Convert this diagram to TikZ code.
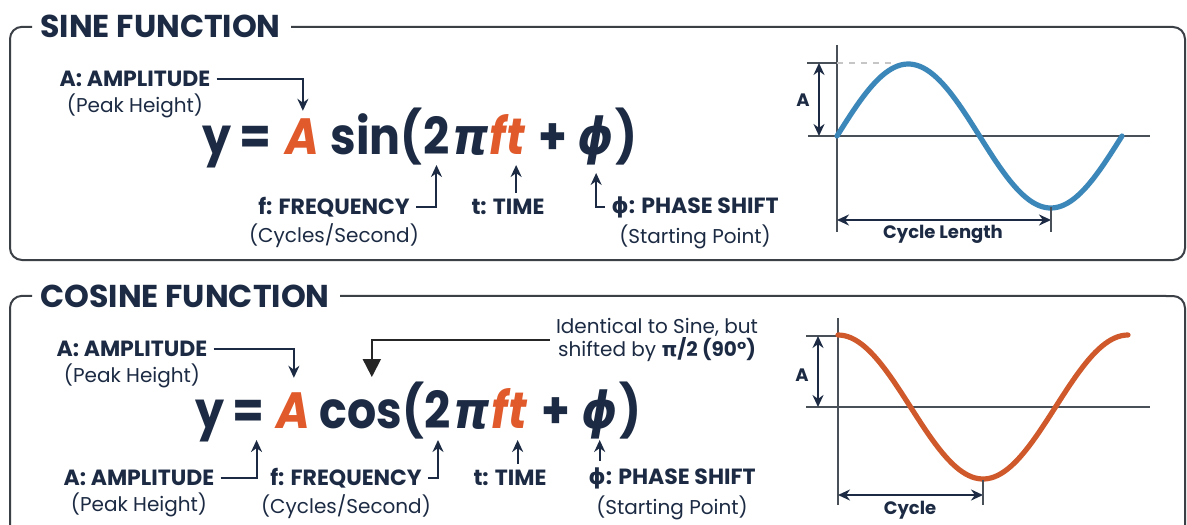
\documentclass[tikz,border=0pt]{standalone}
\usepackage{fontspec}
\setmainfont{Poppins}
\newfontfamily\grk{DejaVu Sans}
\newfontfamily\eqf{Poppins}[FakeStretch=0.9]
\newfontfamily\eqgrk{DejaVu Sans}[FakeStretch=0.9]
\usetikzlibrary{positioning,arrows.meta,calc}

\definecolor{navy}{HTML}{1C2B43}
\definecolor{accent}{HTML}{E05A2B}
\definecolor{wave}{HTML}{3B87B9}
\definecolor{cwave}{HTML}{D0592C}
\definecolor{frame}{HTML}{3B3F46}
\definecolor{axisc}{HTML}{4A5058}

\begin{document}
\begin{tikzpicture}[x=0.5pt, y=-0.5pt,
    panel/.style={draw=frame, line width=1pt, rounded corners=6pt},
    ttl/.style={font=\bfseries\fontsize{15.8}{18}\selectfont, text=navy, inner sep=0pt, anchor=base west},
    lbl/.style={font=\bfseries\fontsize{11}{13}\selectfont, text=navy, inner sep=0pt},
    sub/.style={font=\fontsize{10}{12}\selectfont, text=navy, inner sep=0pt},
    eq/.style={font=\eqf\bfseries\fontsize{25.5}{30}\selectfont, text=navy, inner sep=0pt},
    hot/.style={eq, text=accent},
    ptr/.style={draw=navy, line width=1pt, -{Stealth[length=6pt, width=5.5pt]}},
    axis/.style={draw=axisc, line width=1pt},
    dim/.style={draw=navy, line width=1pt, {Stealth[length=6pt, width=5.5pt]}-{Stealth[length=6pt, width=5.5pt]}},
    glbl/.style={font=\bfseries\fontsize{9}{11}\selectfont, text=navy, inner sep=0pt}]

\fill[white] (0,0) rectangle (1187,524);
\useasboundingbox (0,0) rectangle (1187,524);

% sine panel
\node[ttl] (stitle) at (40,38) {SINE FUNCTION};
\draw[panel] ([xshift=-4pt]stitle.west) -| (10,260) -| (1185,27) -- ([xshift=5pt]stitle.east);

\node[eq, anchor=base west] (sy) at (202,155) {y};
\node[eq, base right=3.5pt of sy] (seq) {=};
\node[hot, base right=7pt of seq] (sA) {\itshape A};
\node[eq, base right=5pt of sA] (ssin) {sin(};
\node[eq, base right=0pt of ssin] (stwo) {2};
\node[eq, base right=1pt of stwo] (spi) {\eqgrk\itshape π};
\node[hot, base right=0pt of spi] (sf) {\itshape f};
\node[hot, base right=0pt of sf] (st) {\itshape t};
\node[eq, base right=6pt of st] (splus) {+};
\node[eq, base right=5pt of splus] (sphi) {\eqgrk\itshape ϕ};
\node[eq, base right=0pt of sphi] (srp) {)};

\node[lbl] (samp) at (135,79) {A: AMPLITUDE};
\node[sub, below=3pt of samp] (sampsub) {(Peak Height)};
\node[lbl] (sfreq) at (334,207) {f: FREQUENCY};
\node[sub, below=3pt of sfreq] (sfreqsub) {(Cycles/Second)};
\node[lbl] (stime) at (508,207) {t: TIME};
\node[lbl] (sphase) at (695,207) {{\grk ϕ}: PHASE SHIFT};
\node[sub, below=3pt of sphase] (sphasesub) {(Starting Point)};

\draw[ptr, shorten >=4pt] ([xshift=3pt]samp.east) -| (sA.north);
\draw[ptr, shorten >=5pt] ([xshift=3pt]sfreq.east) -| (stwo.base);
\draw[ptr, shorten <=3pt, shorten >=5pt] (st.base |- stime.north) -- (st.base);
\draw[ptr, shorten >=9pt] ([xshift=-3pt]sphase.west) -| (sphi.base);

% sine graph
\coordinate (so) at (837,136);
\coordinate (speak) at (837,63);
\draw[axis] (837,45) -- (837,232);
\draw[axis] (808,136) -- (1150,136);
\draw[axis] (807,63) -- (speak);
\draw[axis, draw=gray!45, dashed] (speak) -- (893,63);
\draw[wave, line width=2.6pt, line cap=round] plot[domain=0:285, samples=90] ({837+\x}, {136-72*sin(\x/285*360)});
\draw[dim] (819,63) -- (819,136);
\node[glbl] (salbl) at (803,100) {A};
\draw[dim] (837,220) -- (1051,220);
\draw[axis, line width=0.8pt] (1051,207) -- (1051,232);
\node[glbl] (scyc) at (943,234) {Cycle Length};

% cosine panel
\node[ttl] (ctitle) at (40,307) {COSINE FUNCTION};
\draw[panel] ([xshift=-4pt]ctitle.west) -| (10,580) -| (1185,296) -- ([xshift=5pt]ctitle.east);

\node[eq, anchor=base west] (cy) at (195,428) {y};
\node[eq, base right=3.5pt of cy] (ceq) {=};
\node[hot, base right=6pt of ceq] (cA) {\itshape A};
\node[eq, base right=4pt of cA] (ccos) {cos(};
\node[eq, base right=0pt of ccos] (ctwo) {2};
\node[eq, base right=1pt of ctwo] (cpi) {\eqgrk\itshape π};
\node[hot, base right=0pt of cpi] (cf) {\itshape f};
\node[hot, base right=0pt of cf] (ct) {\itshape t};
\node[eq, base right=7pt of ct] (cplus) {+};
\node[eq, base right=5pt of cplus] (cphi) {\eqgrk\itshape ϕ};
\node[eq, base right=0.5pt of cphi] (crp) {)};

\node[lbl] (camp) at (132,349) {A: AMPLITUDE};
\node[sub, below=3pt of camp] (campsub) {(Peak Height)};
\node[font=\fontsize{10}{11.5}\selectfont, text=navy, align=center, inner sep=0pt] (cnote) at (657,340)
    {Identical to Sine, but\\shifted by \textbf{{\grk π}/2 (90°)}};

\node[lbl] (camp2) at (139,478) {A: AMPLITUDE};
\node[sub, below=3pt of camp2] (camp2sub) {(Peak Height)};
\node[lbl] (cfreq) at (346,478) {f: FREQUENCY};
\node[sub, below=3pt of cfreq] (cfreqsub) {(Cycles/Second)};
\node[lbl] (ctime) at (510,478) {t: TIME};
\node[lbl] (cphase) at (672,478) {{\grk ϕ}: PHASE SHIFT};
\node[sub, below=3pt of cphase] (cphasesub) {(Starting Point)};

\draw[ptr, shorten >=7pt] ([xshift=3pt]camp.east) -| (cA.north);
\draw[draw=black!85, line width=1pt, -{Triangle[length=9pt, width=9pt]}, shorten >=2pt]
    ([xshift=-3pt]cnote.west) -| ($(ccos.north west)!0.5!(ccos.north east)$);
\draw[ptr, shorten >=6pt] ([xshift=3pt]camp2.east) -| ([xshift=-4pt]ceq.base east);
\draw[ptr, shorten >=6pt] ([xshift=3pt]cfreq.east) -| (ctwo.base);
\draw[ptr, shorten <=3pt, shorten >=6pt] (ct.base |- ctime.north) -- (ct.base);
\draw[ptr, shorten <=3pt, shorten >=6pt] (cphi.base |- cphase.north) -- (cphi.base);

% cosine graph
\coordinate (co) at (838,407);
\coordinate (cpeak) at (838,336);
\draw[axis] (838,318) -- (838,505);
\draw[axis] (806,407) -- (1150,407);
\draw[axis] (806,336) -- (cpeak);
\draw[cwave, line width=2.6pt, line cap=round] plot[domain=0:290, samples=90] ({838+\x}, {407-72*cos(\x/290*360)});
\draw[dim] (818,336) -- (818,407);
\node[glbl] (calbl) at (802,375) {A};
\draw[dim] (838,495) -- (983,495);
\draw[axis, line width=0.8pt] (983,480) -- (983,505);
\node[glbl] (ccyc) at (910,510) {Cycle};
\end{tikzpicture}
\end{document}
